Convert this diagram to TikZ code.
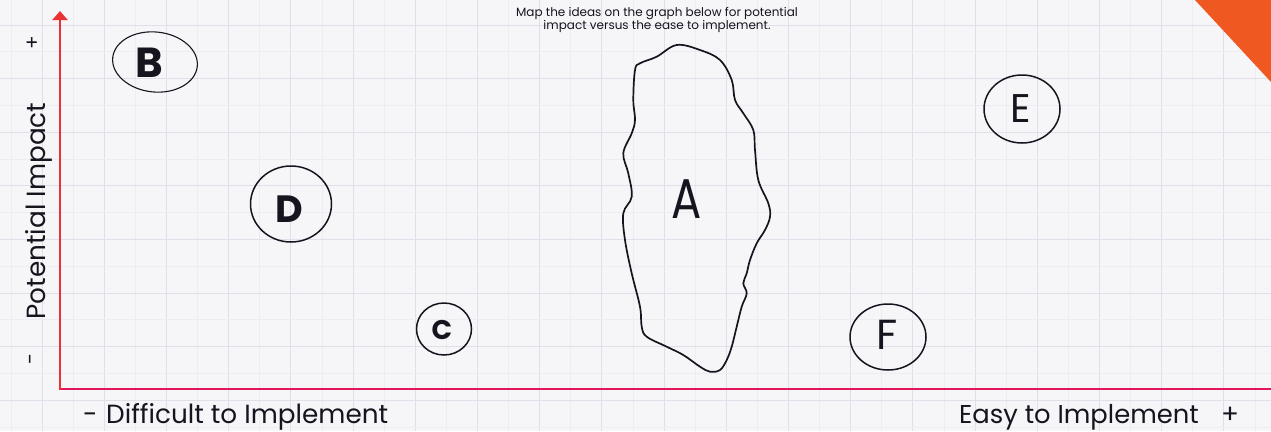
\documentclass[tikz,border=0pt]{standalone}
\usepackage{fontspec}
\setmainfont{Poppins}
\usetikzlibrary{shapes.geometric,arrows.meta}
\definecolor{bg}{RGB}{246,246,248}
\definecolor{gridmaj}{RGB}{223,224,234}
\definecolor{gridmin}{RGB}{236,237,242}
\definecolor{axisv}{RGB}{232,50,52}
\definecolor{axish}{RGB}{226,22,88}
\definecolor{corner}{RGB}{240,88,34}
\definecolor{ink}{RGB}{22,20,30}
\begin{document}
\begin{tikzpicture}[x=1pt,y=-1pt,
  axislabel/.style={font=\fontsize{26.3}{30}\selectfont, text=ink, inner sep=0pt},
  idea/.style={draw=ink, line width=1.5pt, ellipse, inner sep=0pt},
  letter/.style={font=\fontsize{#1}{#1}\selectfont\bfseries, text=ink, inner sep=0pt},
  lightletter/.style={font=\fontsize{#1}{#1}\selectfont, text=ink, inner sep=0pt}
]
\useasboundingbox (0,0) rectangle (1271,431);
\fill[bg] (0,0) rectangle (1271,431);
% grid
\foreach \i in {0,...,20} {
  \draw[gridmin, line width=0.7pt] ({11+62.2*\i},0) -- ++(0,431);
  \draw[gridmaj, line width=0.9pt] ({42+62.2*\i},0) -- ++(0,431);
}
\foreach \j in {0,...,8} {
  \draw[gridmin, line width=0.7pt] (0,{-1.8+53.6*\j}) -- ++(1271,0);
  \draw[gridmaj, line width=0.9pt] (0,{25+53.6*\j}) -- ++(1271,0);
}
% corner triangle
\fill[corner] (1195,0) -- (1271,0) -- (1271,82) -- cycle;
% axes
\coordinate (O) at (60,390.3);
\coordinate (ytip) at (60,11);
\coordinate (xend) at (1271,389);
\coordinate (xstart) at (58.7,389);
\draw[axish, line width=2.6pt] (xstart) -- (xend);
\draw[axisv, line width=2.6pt, -{Triangle[width=15pt,length=9pt]}] (O) -- (ytip);
% title
\node[font=\fontsize{12}{11.5}\selectfont, text=ink, align=center, inner sep=0pt] (title) at (657,20)
  {Map the ideas on the graph below for potential\\impact versus the ease to implement.};
% axis labels
\node[axislabel, anchor=base west] (xminus) at (83,423) {-};
\node[axislabel, anchor=base west] (xlow) at (106,423) {Difficult to Implement};
\node[axislabel, anchor=base west, font=\fontsize{25.8}{30}\selectfont] (xhigh) at (959,423) {Easy to Implement};
\node[axislabel, anchor=base] (xplus) at (1230,423) {+};
\node[axislabel, rotate=90, anchor=base] (ylab) at (45,211) {Potential Impact};
\node[axislabel, rotate=90, font=\fontsize{20}{22}\selectfont] (yplus) at (33.5,42.5) {+};
\node[axislabel, rotate=90, font=\fontsize{20}{22}\selectfont] (yminus) at (33,359) {-};
% ideas
\node[idea, minimum width=85pt, minimum height=60pt, rotate=-6, line width=1.1pt] (B) at (155,62) {};
\node[letter=42] (Bt) at (149,63) {B};
\node[idea, minimum width=81pt, minimum height=76pt] (D) at (291,204) {};
\node[letter=38] (Dt) at (289,209) {D};
\node[idea, minimum width=55pt, minimum height=52pt] (C) at (444,329) {};
\node[letter=27] (Ct) at (442,330) {C};
\node[idea, minimum width=76pt, minimum height=68pt] (E) at (1022,109) {};
\node[lightletter=40] (Et) at (1021,109) {E};
\node[idea, minimum width=76pt, minimum height=66pt] (F) at (888,337) {};
\node[lightletter=42] (Ft) at (887,335) {F};
% blob A
\draw[ink, line width=1.7pt] plot[smooth cycle, tension=0.6] coordinates {
 (676.7,45) (700,50) (720,60) (731.7,80) (735,100) (743.3,113.3) (753.3,130) (755,150)
 (758.3,180) (768.3,203.3) (770,216.7) (765,230) (756.7,243.3) (750,260) (746.7,273.3)
 (743.3,283.3) (746.7,293.3) (741.7,306.7) (736.7,326.7) (731.7,346.7) (726.7,360)
 (720,370) (710,371.7) (700,366.7) (683.3,355) (666.7,346.7) (646.7,336.7) (641.7,326.7)
 (640,306.7) (631.7,273.3) (625,240) (623.3,213.3) (631.7,196.7) (628.3,173.3)
 (623.3,153.3) (631.7,133.3) (635,120) (633.3,100) (635,70) (640,63.3) (656.7,56.7)};
\node[font=\fontsize{56}{56}\selectfont, text=ink, inner sep=0pt, xscale=0.8] (A) at (687,199) {A};
\end{tikzpicture}
\end{document}
